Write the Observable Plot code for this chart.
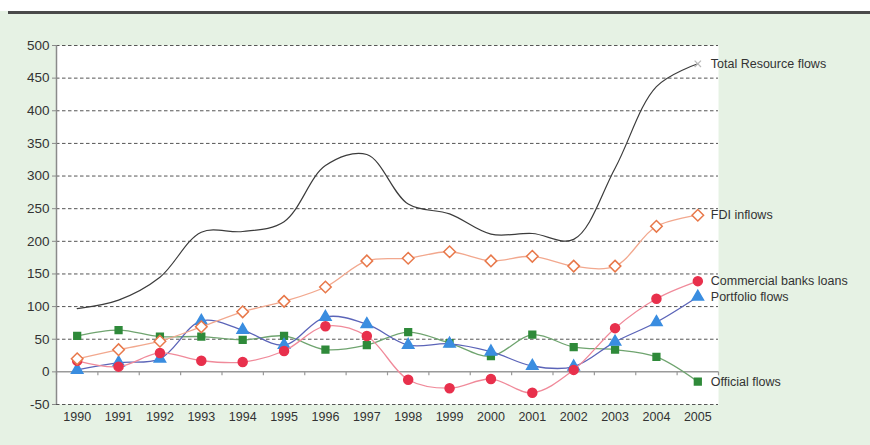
<!DOCTYPE html>
<html>
<head>
<meta charset="utf-8">
<script src="https://cdn.jsdelivr.net/npm/d3@7"></script>
<script src="https://cdn.jsdelivr.net/npm/@observablehq/plot@0.6"></script>
<style>
  html, body { margin: 0; padding: 0; }
  body { width: 870px; height: 445px; background: #e6f2e4; position: relative; overflow: hidden;
         font-family: "Liberation Sans", Arial, sans-serif; }
  #topband { position: absolute; left: 0; top: 0; width: 870px; height: 11px; background: #ffffff; }
  #topline { position: absolute; left: 8px; top: 11px; width: 862px; height: 3px; background: #4a4a4a; }
  #chart { position: absolute; left: 0; top: 0; }
</style>
</head>
<body>
<div id="topband"></div>
<div id="topline"></div>
<div id="chart"></div>
<script>
const years = [1990, 1991, 1992, 1993, 1994, 1995, 1996, 1997, 1998, 1999, 2000, 2001, 2002, 2003, 2004, 2005];
const totalFlows = [97, 110, 145, 214, 215, 230, 316, 333, 257, 242, 211, 212, 203, 312, 437, 472];
const fdiInflows = [20, 34, 47, 69, 92, 108, 130, 170, 174, 184, 170, 177, 162, 162, 223, 240];
const bankLoans = [17, 8, 29, 17, 15, 32, 70, 55, -12, -25, -11, -32, 3, 67, 112, 139];
const portfolioFlows = [3, 14, 20, 78, 64, 41, 84, 73, 41, 43, 31, 9, 8, 46, 76, 115];
const officialFlows = [55, 64, 54, 54, 49, 55, 34, 41, 61, 44, 24, 57, 38, 34, 23, -15];
const yTicks = [-50, 0, 50, 100, 150, 200, 250, 300, 350, 400, 450, 500];
const seriesNames = ["Total Resource flows", "FDI inflows", "Commercial banks loans", "Portfolio flows", "Official flows"];

const rows = (vals) => years.map((y, i) => ({year: y, value: vals[i]}));
const total = rows(totalFlows), fdi = rows(fdiInflows), banks = rows(bankLoans),
      port = rows(portfolioFlows), off = rows(officialFlows);
const boundaries = d3.range(years.length + 1).map(i => years[0] - 0.5 + i);
const lastRows = [
  {name: seriesNames[0], year: 2005, value: totalFlows[15]},
  {name: seriesNames[1], year: 2005, value: fdiInflows[15]},
  {name: seriesNames[2], year: 2005, value: bankLoans[15]},
  {name: seriesNames[3], year: 2005, value: portfolioFlows[15]},
  {name: seriesNames[4], year: 2005, value: officialFlows[15]}
];
const curve = "catmull-rom";

const chart = Plot.plot({
  width: 870,
  height: 445,
  marginLeft: 56,
  marginRight: 152,
  marginTop: 45,
  marginBottom: 41,
  style: {background: "transparent", fontFamily: "'Liberation Sans', Arial, sans-serif", color: "#333"},
  x: {domain: [1989.5, 2005.5]},
  y: {domain: [-50, 500]},
  marks: [
    Plot.frame({fill: "#ffffff", stroke: null}),
    Plot.ruleY(yTicks.filter(d => d !== 0), {stroke: "#555", strokeWidth: 1, strokeDasharray: "3.5,2.5"}),
    Plot.ruleY([0], {stroke: "#9a9a9a", strokeWidth: 1.5}),
    Plot.ruleX(boundaries, {y1: 0, y2: -6, stroke: "#9a9a9a", strokeWidth: 1.2}),
    Plot.ruleX([1989.5], {y1: -50, y2: 500, stroke: "#8a8a8a", strokeWidth: 1.5}),
    Plot.axisY({ticks: yTicks, tickSize: 4, tickPadding: 3, fontSize: 13.5, stroke: "#8a8a8a", label: null, tickFormat: d => d}),
    Plot.axisX({ticks: years, tickSize: 0, tickPadding: 8, fontSize: 12.5, label: null, tickFormat: d => String(d)}),

    Plot.line(off, {x: "year", y: "value", curve, stroke: "#6fa46f", strokeWidth: 1.3}),
    Plot.dot(off, {x: "year", y: "value", symbol: "square", r: 3.8, fill: "#2f8a3a", stroke: "#2f8a3a"}),

    Plot.line(port, {x: "year", y: "value", curve, stroke: "#5b64b8", strokeWidth: 1.3}),
    Plot.dot(port, {x: "year", y: "value", symbol: "triangle", r: 4.2, fill: "#3a8de0", stroke: "#3a8de0"}),

    Plot.line(banks, {x: "year", y: "value", curve, stroke: "#f08a9a", strokeWidth: 1.3}),
    Plot.dot(banks, {x: "year", y: "value", symbol: "circle", r: 4.5, fill: "#e8304c", stroke: "#e8304c"}),

    Plot.line(fdi, {x: "year", y: "value", curve, stroke: "#f2a88e", strokeWidth: 1.3}),
    Plot.dot(fdi, {x: "year", y: "value", symbol: "diamond2", r: 5.2, fill: "#ffffff", stroke: "#e8784a", strokeWidth: 1.5}),

    Plot.line(total, {x: "year", y: "value", curve, stroke: "#3c3c3c", strokeWidth: 1.2}),
    Plot.dot(total.slice(-1), {x: "year", y: "value", symbol: "times", r: 3, stroke: "#b8b8b8", strokeWidth: 1.2}),

    Plot.text(lastRows, {x: "year", y: "value", text: "name", dx: 13, textAnchor: "start", fontSize: 12.5, fill: "#333"})
  ]
});
document.getElementById("chart").appendChild(chart);
</script>
</body>
</html>
